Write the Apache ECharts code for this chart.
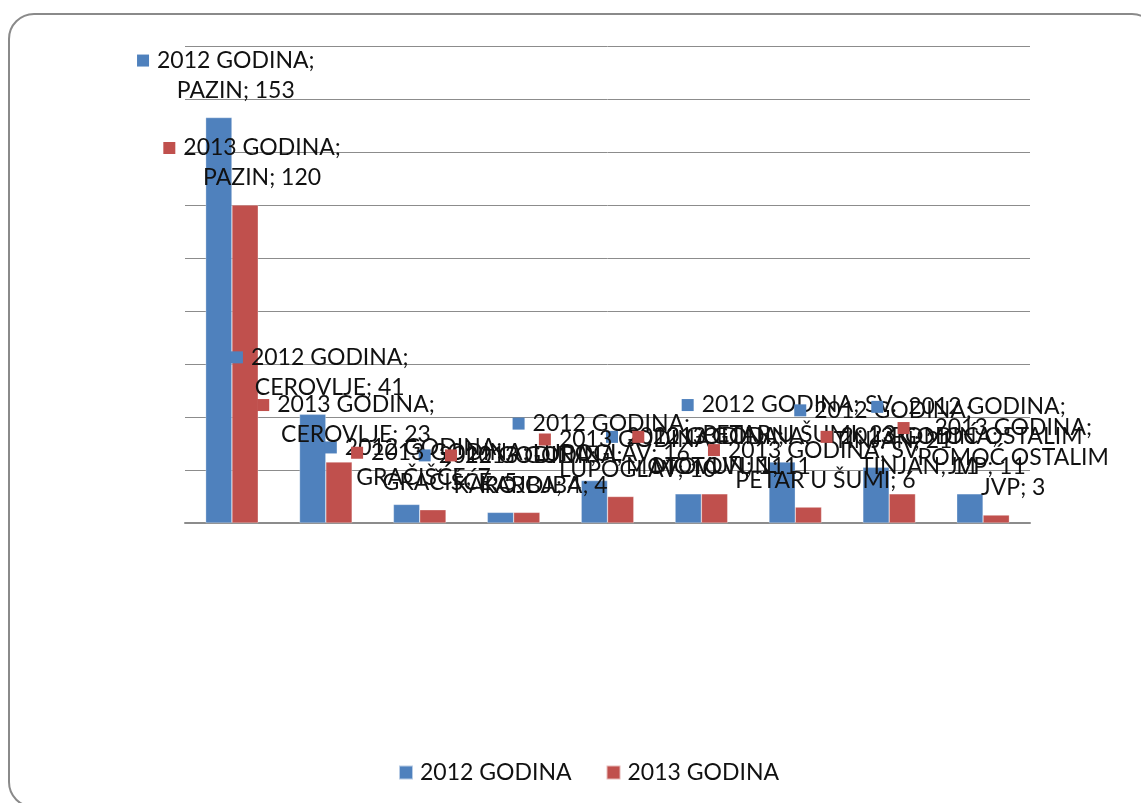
<!DOCTYPE html>
<html>
<head>
<meta charset="utf-8">
<script src="https://cdn.jsdelivr.net/npm/echarts@6/dist/echarts.min.js"></script>
<style>
  html, body { margin: 0; padding: 0; background: #fff; overflow: hidden; }
  #frame { position: absolute; left: 8px; top: 13px; width: 1150px; height: 795px;
           border: 2px solid #8a8a8a; border-radius: 26px; box-sizing: border-box; }
  #chart { position: absolute; left: 0; top: 0; width: 1141px; height: 803px; }
</style>
</head>
<body>
<div id="frame"></div>
<div id="chart"></div>
<script>
const categories = ['PAZIN', 'CEROVLJE', 'GRAČIŠĆE', 'KAROJBA', 'LUPOGLAV', 'MOTOVUN', 'SV. PETAR U ŠUMI', 'TINJAN', 'POMOĆ OSTALIM JVP'];
const seriesNames = ['2012 GODINA', '2013 GODINA'];
const values2012 = [153, 41, 7, 4, 16, 11, 23, 21, 11];
const values2013 = [120, 23, 5, 4, 10, 11, 6, 11, 3];
const colors = ['#4F81BD', '#C0504D'];

const FONT = 'Lato';
const FONT_SIZE = 23;
const WRAP_WIDTH = 212;

const measureCtx = document.createElement('canvas').getContext('2d');
measureCtx.font = FONT_SIZE + 'px ' + FONT;
function wrapWords(text) {
  const words = text.split(' ');
  const lines = [];
  let cur = '';
  words.forEach(function (w) {
    const trial = cur ? cur + ' ' + w : w;
    if (cur && measureCtx.measureText(trial).width > WRAP_WIDTH) {
      lines.push(cur);
      cur = w;
    } else {
      cur = trial;
    }
  });
  if (cur) lines.push(cur);
  return lines;
}

function makeSeries(name, values, color) {
  return {
    name: name,
    type: 'bar',
    data: values,
    barGap: '0%',
    barCategoryGap: '44%',
    itemStyle: { color: color, borderColor: 'rgba(255,255,255,0.6)', borderWidth: 0.5 },
    label: {
      show: true,
      position: 'top',
      distance: 12,
      offset: [7, 0],
      formatter: function (p) {
        const lines = wrapWords(p.seriesName + '; ' + p.name + '; ' + p.value);
        return lines.map(function (l, i) {
          return (i === 0 ? '{k|}{g|}' : '{sp|}') + '{t|' + l + '}';
        }).join('\n');
      },
      rich: {
        k: { width: 12, height: 12, backgroundColor: color, align: 'left' },
        g: { width: 8, height: 12, align: 'left' },
        sp: { width: 20, height: 12, align: 'left' },
        t: { fontFamily: FONT, fontSize: FONT_SIZE, color: '#111', lineHeight: 30, align: 'center' }
      }
    }
  };
}

const chart = echarts.init(document.getElementById('chart'), null, { renderer: 'canvas' });
chart.setOption({
  backgroundColor: 'transparent',
  animation: false,
  grid: { left: 185, right: 111, top: 46, bottom: 280, containLabel: false },
  legend: {
    data: seriesNames,
    bottom: 14,
    left: 393,
    itemWidth: 14,
    itemHeight: 14,
    itemGap: 34,
    icon: 'rect',
    textStyle: { fontFamily: FONT, fontSize: FONT_SIZE, color: '#111', padding: [0, 0, 0, 2] }
  },
  xAxis: {
    type: 'category',
    data: categories,
    axisLine: { show: true, lineStyle: { color: '#8c8c8c', width: 2 } },
    axisTick: { show: false },
    axisLabel: { show: false }
  },
  yAxis: {
    type: 'value',
    min: 0,
    max: 180,
    interval: 20,
    axisLine: { show: false },
    axisTick: { show: false },
    axisLabel: { show: false },
    splitLine: { show: true, lineStyle: { color: '#8c8c8c', width: 1 } }
  },
  series: [
    makeSeries(seriesNames[0], values2012, colors[0]),
    makeSeries(seriesNames[1], values2013, colors[1])
  ]
});
</script>
</body>
</html>
